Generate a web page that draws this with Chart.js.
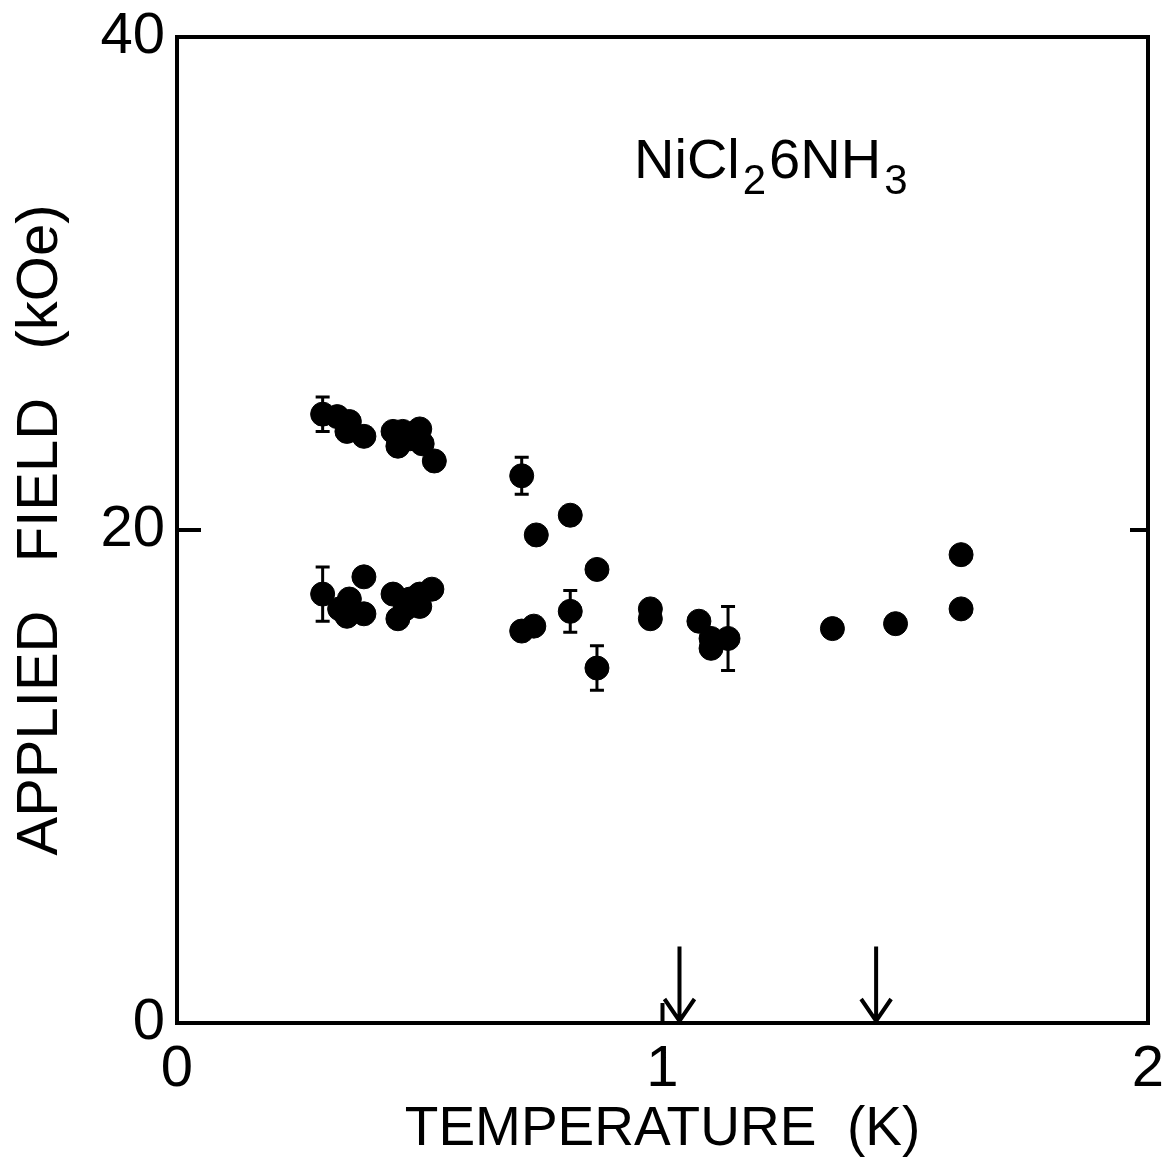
<!DOCTYPE html>
<html>
<head>
<meta charset="utf-8">
<script src="https://cdn.jsdelivr.net/npm/chart.js@4.4.1/dist/chart.umd.min.js"></script>
<style>
  html, body { margin: 0; padding: 0; background: #fff; }
  #wrap { width: 1174px; height: 1169px; }
</style>
</head>
<body>
<div id="wrap"><canvas id="c" width="1174" height="1169"></canvas></div>
<script>
// temperature (K), applied field (kOe), error (kOe, 0 = no bar)
const temps  = [0.30, 0.33, 0.355, 0.35, 0.385, 0.445, 0.465, 0.50, 0.455, 0.48, 0.505, 0.53,
                0.30, 0.335, 0.355, 0.385, 0.385, 0.35, 0.445, 0.455, 0.48, 0.50, 0.525, 0.47, 0.50,
                0.71, 0.74, 0.81, 0.865,
                0.71, 0.735, 0.81, 0.865, 0.975, 0.975, 1.075, 1.10, 1.135, 1.10,
                1.35, 1.48, 1.615, 1.615];
const fields = [24.7, 24.6, 24.4, 24.0, 23.8, 24.0, 24.0, 24.1, 23.4, 23.7, 23.5, 22.8,
                17.4, 16.8, 17.2, 16.6, 18.1, 16.5, 17.4, 16.4, 17.2, 17.4, 17.6, 16.8, 16.9,
                22.2, 19.8, 20.6, 18.4,
                15.9, 16.1, 16.7, 14.4, 16.8, 16.4, 16.3, 15.6, 15.6, 15.2,
                16.0, 16.2, 19.0, 16.8];
const errs   = [0.7, 0, 0, 0, 0, 0, 0, 0, 0, 0, 0, 0,
                1.1, 0, 0, 0, 0, 0, 0, 0, 0, 0, 0, 0, 0,
                0.75, 0, 0, 0,
                0, 0, 0.85, 0.9, 0, 0, 0, 0, 1.3, 0,
                0, 0, 0, 0];
const arrowTemps = [1.035, 1.44];
const xTicks = [0, 1, 2];
const yTicks = [0, 20, 40];

const FONT = '"Liberation Sans", Arial, sans-serif';

const points = temps.map((t, i) => ({ x: t, y: fields[i] }));

const framePlugin = {
  id: 'frame',
  beforeDatasetsDraw(chart) {
    const ctx = chart.ctx;
    const a = chart.chartArea;
    const xs = chart.scales.x, ys = chart.scales.y;
    ctx.save();
    ctx.strokeStyle = '#000';
    ctx.lineWidth = 4;
    ctx.strokeRect(a.left, a.top, a.right - a.left, a.bottom - a.top);
    // inward tick marks
    const y20 = ys.getPixelForValue(20);
    ctx.beginPath();
    ctx.moveTo(a.left, y20); ctx.lineTo(a.left + 24, y20);
    ctx.moveTo(a.right, y20); ctx.lineTo(a.right - 18, y20);
    const x1 = xs.getPixelForValue(1);
    ctx.moveTo(x1, a.bottom); ctx.lineTo(x1, a.bottom - 20);
    ctx.stroke();
    // arrows
    arrowTemps.forEach(t => {
      const px = xs.getPixelForValue(t);
      const top = ys.getPixelForValue(3.1);
      ctx.beginPath();
      ctx.moveTo(px, top); ctx.lineTo(px, a.bottom - 2);
      ctx.moveTo(px - 15, a.bottom - 24); ctx.lineTo(px, a.bottom - 2); ctx.lineTo(px + 15, a.bottom - 24);
      ctx.stroke();
    });
    // error bars
    ctx.lineWidth = 3;
    temps.forEach((t, i) => {
      if (!errs[i]) return;
      const px = xs.getPixelForValue(t);
      const lo = ys.getPixelForValue(fields[i] - errs[i]);
      const hi = ys.getPixelForValue(fields[i] + errs[i]);
      ctx.beginPath();
      ctx.moveTo(px, lo); ctx.lineTo(px, hi);
      ctx.moveTo(px - 7, lo); ctx.lineTo(px + 7, lo);
      ctx.moveTo(px - 7, hi); ctx.lineTo(px + 7, hi);
      ctx.stroke();
    });
    // compound label
    ctx.fillStyle = '#000';
    ctx.textBaseline = 'alphabetic';
    ctx.textAlign = 'left';
    let x = 634;
    const base = 178;
    const parts = [['NiCl', 0, 56], ['2', 16, 42], ['6NH', 0, 56], ['3', 16, 42]];
    parts.forEach(([s, dy, size]) => {
      ctx.font = size + 'px ' + FONT;
      ctx.fillText(s, x, base + dy);
      x += ctx.measureText(s).width + 3;
    });
    ctx.restore();
  }
};

new Chart(document.getElementById('c'), {
  type: 'scatter',
  data: {
    datasets: [{
      data: points,
      backgroundColor: '#000',
      borderColor: '#000',
      pointRadius: 12,
      pointHoverRadius: 12
    }]
  },
  options: {
    responsive: false,
    animation: false,
    events: [],
    layout: { padding: { top: 37, right: 26, left: 0, bottom: 0 } },
    plugins: { legend: { display: false }, tooltip: { enabled: false } },
    scales: {
      x: {
        type: 'linear',
        min: 0, max: 2,
        afterBuildTicks: s => { s.ticks = xTicks.map(v => ({ value: v })); },
        afterFit: s => { s.height = 1169 - 1023; s.paddingLeft = 0; s.paddingRight = 0; },
        grid: { display: false, drawTicks: false },
        border: { display: false },
        ticks: { color: '#000', font: { family: FONT, size: 58 }, padding: 12 },
        title: {
          display: true, text: 'TEMPERATURE  (K)', color: '#000',
          font: { family: FONT, size: 55 }, padding: { top: 0, bottom: 6 }
        }
      },
      y: {
        type: 'linear',
        min: 0, max: 40,
        afterBuildTicks: s => { s.ticks = yTicks.map(v => ({ value: v })); },
        afterFit: s => { s.width = 177; s.paddingTop = 0; s.paddingBottom = 0; },
        grid: { display: false, drawTicks: false },
        border: { display: false },
        ticks: { color: '#000', font: { family: FONT, size: 58 }, padding: 12 },
        title: {
          display: true, text: 'APPLIED   FIELD   (kOe)', color: '#000',
          font: { family: FONT, size: 58 }, padding: { top: 6, bottom: 0 }
        }
      }
    }
  },
  plugins: [framePlugin]
});
</script>
</body>
</html>
